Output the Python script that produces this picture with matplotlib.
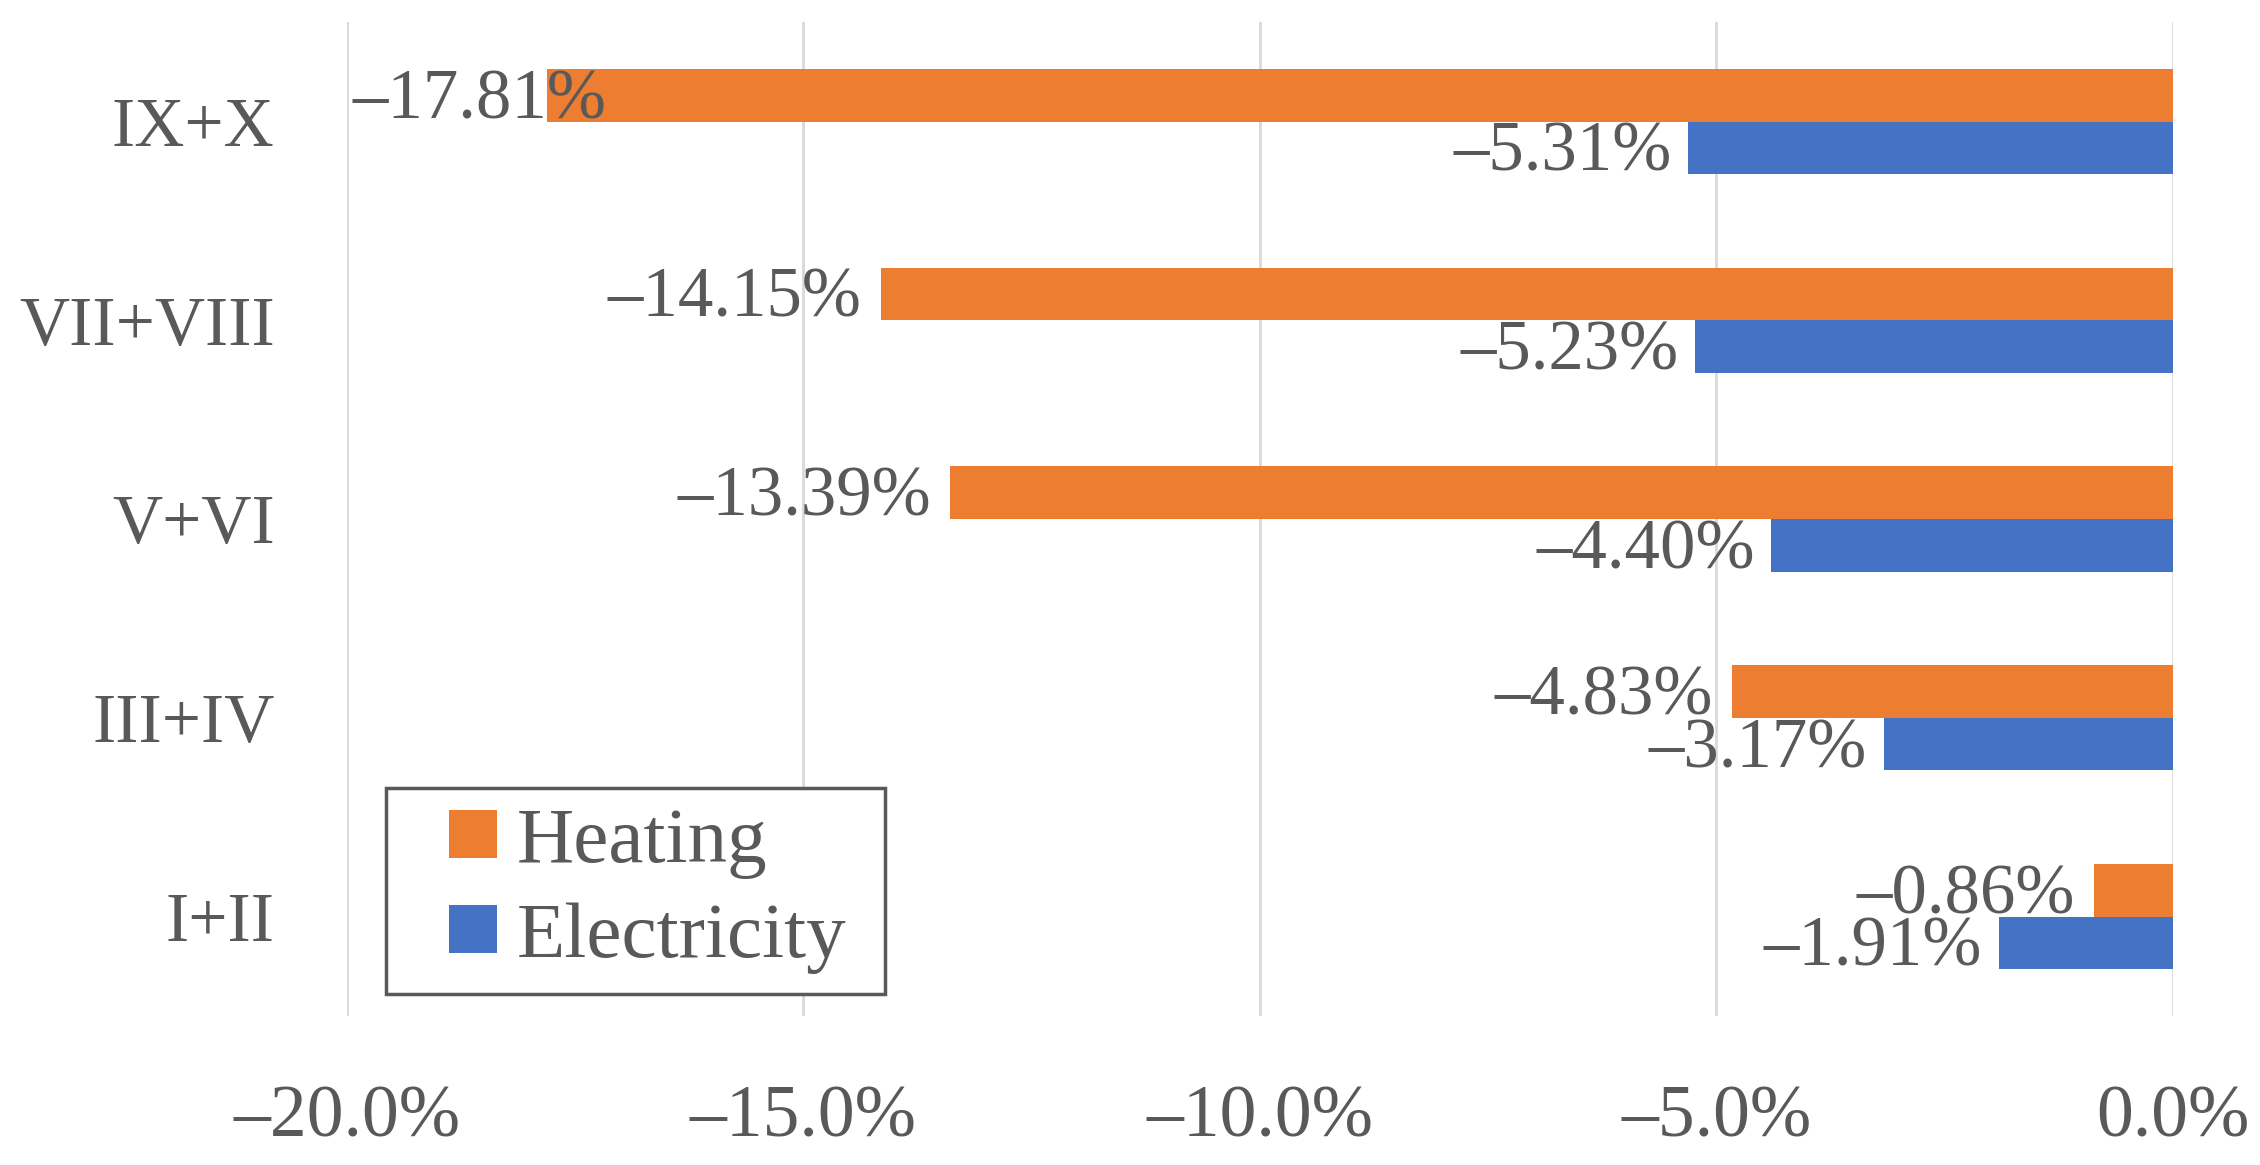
import numpy as np
import matplotlib
matplotlib.use("Agg")
import matplotlib.pyplot as plt
from matplotlib.ticker import FuncFormatter, MultipleLocator
from matplotlib.legend_handler import HandlerPatch
from matplotlib.patches import Rectangle
from matplotlib.container import BarContainer

categories = ["I+II", "III+IV", "V+VI", "VII+VIII", "IX+X"]
heating = [-0.86, -4.83, -13.39, -14.15, -17.81]
electricity = [-1.91, -3.17, -4.40, -5.23, -5.31]

ORANGE = "#ED7D31"
BLUE = "#4472C4"
GREY = "#595959"

plt.rcParams["font.family"] = ["Liberation Serif", "DejaVu Serif"]

def pct(v, dec):
    s = f"{abs(v):.{dec}f}%"
    return ("\u2013" + s) if v < 0 else s

# square legend marker pushed to the right end of the handle box
def square_patch(legend, orig_handle, xdescent, ydescent, width, height, fontsize):
    sq = height
    return Rectangle((-xdescent + width - sq, -ydescent), sq, sq)

def from_first_bar(legend_handle, orig_handle):
    legend_handle.update_from(orig_handle.patches[0])

fig = plt.figure(figsize=(22.6, 11.65), dpi=100)
ax = fig.add_axes([0.1535, 0.128, 0.808, 0.853])

y = np.arange(len(categories))
h = 0.265
ax.barh(y + h / 2, heating, height=h, color=ORANGE, label="Heating", zorder=3)
ax.barh(y - h / 2, electricity, height=h, color=BLUE, label="Electricity", zorder=3)

ax.set_xlim(-20, 0)
ax.set_ylim(-0.5, len(categories) - 0.5)
ax.xaxis.set_major_locator(MultipleLocator(5))
ax.xaxis.set_major_formatter(FuncFormatter(lambda v, p: pct(v, 1) if abs(v) > 1e-9 else "0.0%"))
ax.set_yticks(y)
ax.set_yticklabels(categories)
ax.grid(axis="x", color="#D9D9D9", linewidth=2, zorder=0)
for s in ax.spines.values():
    s.set_visible(False)
ax.tick_params(axis="both", length=0, labelcolor=GREY)
ax.tick_params(axis="x", labelsize=53, pad=50)
ax.tick_params(axis="y", labelsize=50, pad=52)

fs = 51
for i, v in enumerate(heating):
    if v < -17:
        ax.annotate(pct(v, 2), (-20, i + h / 2), xytext=(4, -4), textcoords="offset points",
                    ha="left", va="center", fontsize=fs, color=GREY, zorder=4)
    else:
        ax.annotate(pct(v, 2), (v, i + h / 2), xytext=(-14, -4), textcoords="offset points",
                    ha="right", va="center", fontsize=fs, color=GREY, zorder=4)
for i, v in enumerate(electricity):
    ax.annotate(pct(v, 2), (v, i - h / 2), xytext=(-12, -4), textcoords="offset points",
                ha="right", va="center", fontsize=fs, color=GREY, zorder=4)

leg = fig.legend(loc="lower left", bbox_to_anchor=(0.1709, 0.1468, 0.2206, 0.17),
                 mode="expand", fontsize=57,
                 frameon=True, fancybox=False, edgecolor=GREY, framealpha=1,
                 handlelength=1.15, handleheight=0.55, handletextpad=0.25,
                 labelspacing=0.3, borderpad=0.25, borderaxespad=0,
                 handler_map={BarContainer: HandlerPatch(patch_func=square_patch,
                                                         update_func=from_first_bar)})
leg.get_frame().set_linewidth(2.5)
for t in leg.get_texts():
    t.set_color(GREY)

fig.savefig("out.png", dpi=100)
